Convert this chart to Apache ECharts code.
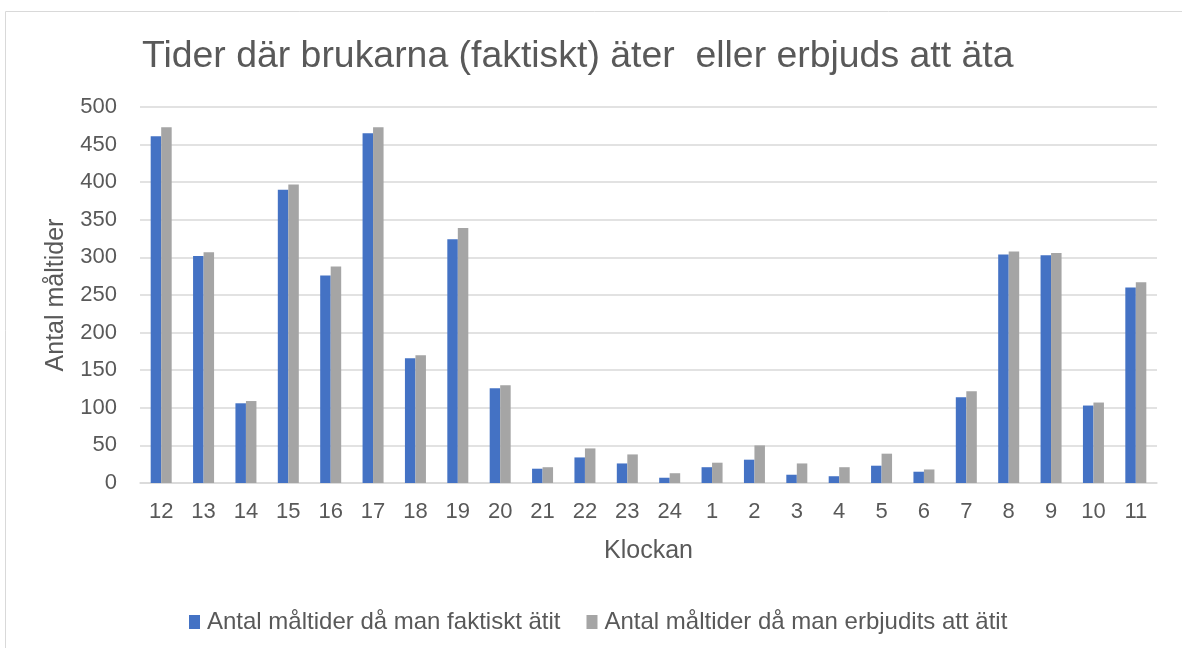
<!DOCTYPE html>
<html>
<head>
<meta charset="utf-8">
<script src="https://cdn.jsdelivr.net/npm/echarts@6/dist/echarts.min.js"></script>
<style>
  html, body { margin: 0; padding: 0; background: #fff; }
  #chart { width: 1182px; height: 648px; }
</style>
</head>
<body>
<div id="chart"></div>
<script>
// klockslag
var Hours = ['12', '13', '14', '15', '16', '17', '18', '19', '20', '21', '22', '23', '24',
    '1', '2', '3', '4', '5', '6', '7', '8', '9', '10', '11'];
// antal måltider då man faktiskt ätit
var Eaten = [461, 302, 106, 390, 276, 465, 166, 324, 126, 19, 34, 26, 7,
    21, 31, 11, 9, 23, 15, 114, 304, 303, 103, 260];
// antal måltider då man erbjudits att äta
var Offered = [473, 307, 109, 397, 288, 473, 170, 339, 130, 21, 46, 38, 13,
    27, 50, 26, 21, 39, 18, 122, 308, 306, 107, 267];

var SeriesNames = ['Antal måltider då man faktiskt ätit', 'Antal måltider då man erbjudits att ätit'];

var font = 'Liberation Sans, Arial, sans-serif';
var textColor = '#595959';

var chart = echarts.init(document.getElementById('chart'));
var option = {
    animation: false,
    textStyle: { fontFamily: font },
    graphic: [
        {
            // ram runt diagrammet
            type: 'rect',
            shape: { x: 5.5, y: 11.5, width: 1300, height: 800 },
            style: { fill: 'none', stroke: '#d9d9d9', lineWidth: 1 },
            silent: true
        }
    ],
    title: {
        text: 'Tider där brukarna (faktiskt) äter  eller erbjuds att äta',
        left: 137,
        top: 33,
        textStyle: { fontFamily: font, fontSize: 37.4, fontWeight: 'normal', color: textColor }
    },
    legend: {
        data: SeriesNames,
        left: 189,
        top: 610,
        padding: 0,
        itemWidth: 11,
        itemHeight: 14,
        itemGap: 26,
        icon: 'rect',
        textStyle: { fontFamily: font, fontSize: 24, color: textColor, padding: [0, 0, 0, 2] }
    },
    grid: { left: 140, right: 25, top: 107, bottom: 165 },
    xAxis: {
        type: 'category',
        data: Hours,
        name: 'Klockan',
        nameLocation: 'middle',
        nameGap: 56,
        nameTextStyle: { fontFamily: font, fontSize: 25, color: textColor },
        axisLine: { lineStyle: { color: '#d9d9d9', width: 1.5 } },
        axisTick: { show: false },
        axisLabel: { fontFamily: font, fontSize: 22, color: textColor, margin: 18 }
    },
    yAxis: {
        type: 'value',
        min: 0,
        max: 500,
        interval: 50,
        name: 'Antal måltider',
        nameLocation: 'middle',
        nameGap: 71,
        nameTextStyle: { fontFamily: font, fontSize: 25, color: textColor },
        axisLine: { show: false },
        axisTick: { show: false },
        splitLine: { lineStyle: { color: '#d9d9d9', width: 1.5 } },
        axisLabel: { fontFamily: font, fontSize: 22, color: textColor, margin: 23 }
    },
    series: [
        {
            name: SeriesNames[0],
            type: 'bar',
            data: Eaten,
            barWidth: 10.5,
            barGap: '0%',
            itemStyle: { color: '#4472c4' }
        },
        {
            name: SeriesNames[1],
            type: 'bar',
            data: Offered,
            barWidth: 10.5,
            barGap: '0%',
            itemStyle: { color: '#a5a5a5' }
        }
    ]
};
chart.setOption(option);
</script>
</body>
</html>
